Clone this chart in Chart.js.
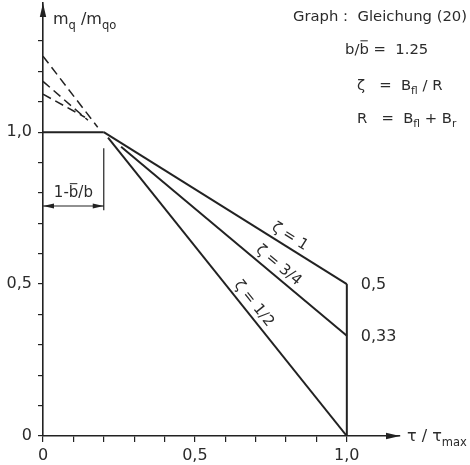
<!DOCTYPE html>
<html>
<head>
<meta charset="utf-8">
<script src="https://cdn.jsdelivr.net/npm/chart.js@4.4.1/dist/chart.umd.min.js"></script>
<style>
    html, body { margin: 0; padding: 0; background: #fff; }
    #wrap { width: 470px; height: 465px; }
</style>
</head>
<body>
<div id="wrap"><canvas id="chart" width="470" height="465"></canvas></div>
<script>
(function () {
    "use strict";

    // ======================================================================
    // Data
    //
    const curveNames = ['ζ = 1', 'ζ = 3/4', 'ζ = 1/2'];
    const curveStartX = [0.2, 0.257, 0.214];
    const curveStartY = [1.0, 0.952, 0.982];
    const curveEndX = [1.0, 1.0, 1.0];
    const curveEndY = [0.5, 0.33, 0.0];
    const curveLabelX = [0.795, 0.754, 0.668];

    const dashStartX = [0, 0, 0];
    const dashStartY = [1.125, 1.167, 1.25];
    const dashEndX = [0.138, 0.148, 0.18];
    const dashEndY = [1.049, 1.039, 1.016];

    const plateauX = [0, 0.2];
    const plateauY = [1.0, 1.0];
    const cutoffX = [1.0, 1.0];
    const cutoffY = [0.0, 0.5];

    const endLabels = ['0,5', '0,33'];
    const endLabelY = [0.5, 0.33];

    const kneeX = 0.2;          // 1 - b̄/b
    const dimLineY = [0.947, 0.743];
    const dimArrowY = 0.757;

    const xTickValues = [0, 0.1, 0.2, 0.3, 0.4, 0.5, 0.6, 0.7, 0.8, 0.9, 1.0];
    const xTickLabels = ['0', '', '', '', '', '0,5', '', '', '', '', '1,0'];
    const yTickValues = [0, 0.1, 0.2, 0.3, 0.4, 0.5, 0.6, 0.7, 0.8, 0.9, 1.0, 1.1, 1.2, 1.3];
    const yTickLabels = ['0', '', '', '', '', '0,5', '', '', '', '', '1,0', '', '', ''];

    // ======================================================================
    // Style
    //
    const INK = '#222';
    const TXT = '#2b2b2b';
    const FONT = '"DejaVu Sans", sans-serif';

    // ======================================================================
    // Helpers
    //
    function seg(xs, ys, dash, width) {
        return {
            data: xs.map((x, i) => ({ x: x, y: ys[i] })),
            showLine: true,
            borderColor: INK,
            borderWidth: width || 2,
            borderDash: dash || [],
            pointRadius: 0,
            fill: false
        };
    }

    function richWidth(ctx, parts, size) {
        let w = 0;
        parts.forEach(([t, k]) => {
            ctx.font = `${k === 's' ? size * 0.72 : size}px ${FONT}`;
            w += ctx.measureText(t).width;
        });
        return w;
    }

    function drawRich(ctx, parts, x, y, size) {
        parts.forEach(([t, k]) => {
            const fs = k === 's' ? size * 0.72 : size;
            ctx.font = `${fs}px ${FONT}`;
            ctx.fillText(t, x, y + (k === 's' ? size * 0.36 : 0));
            const w = ctx.measureText(t).width;
            if (k === 'o') {
                ctx.beginPath();
                ctx.lineWidth = 1;
                ctx.moveTo(x + 1, y - size * 0.62);
                ctx.lineTo(x + w - 1, y - size * 0.62);
                ctx.stroke();
            }
            x += w;
        });
        return x;
    }

    function arrowHead(ctx, x, y, angle, len, half) {
        ctx.save();
        ctx.translate(x, y);
        ctx.rotate(angle);
        ctx.beginPath();
        ctx.moveTo(0, 0);
        ctx.lineTo(-len, -half);
        ctx.lineTo(-len, half);
        ctx.closePath();
        ctx.fill();
        ctx.restore();
    }

    // ======================================================================
    // Datasets
    //
    const datasets = [seg(plateauX, plateauY), seg(cutoffX, cutoffY)];
    curveNames.forEach((n, i) => {
        datasets.push(seg([curveStartX[i], curveEndX[i]], [curveStartY[i], curveEndY[i]]));
        datasets.push(seg([dashStartX[i], dashEndX[i]], [dashStartY[i], dashEndY[i]], [9, 5], 1.5));
    });

    // ======================================================================
    // Annotations
    //
    const annotations = {
        id: 'annotations',
        afterDraw(chart) {
            const ctx = chart.ctx,
                xs = chart.scales.x,
                ys = chart.scales.y,
                area = chart.chartArea,
                x0 = xs.getPixelForValue(0),
                y0 = ys.getPixelForValue(0);

            ctx.save();
            ctx.fillStyle = INK;
            ctx.strokeStyle = INK;

            // axis arrows
            arrowHead(ctx, area.right, y0, 0, 14, 3.2);
            arrowHead(ctx, x0, area.top, -Math.PI / 2, 14, 3.2);

            // dimension 1 - b̄/b
            const kx = xs.getPixelForValue(kneeX),
                ay = ys.getPixelForValue(dimArrowY);
            ctx.lineWidth = 1.2;
            ctx.beginPath();
            ctx.moveTo(kx, ys.getPixelForValue(dimLineY[0]));
            ctx.lineTo(kx, ys.getPixelForValue(dimLineY[1]));
            ctx.moveTo(x0, ay);
            ctx.lineTo(kx, ay);
            ctx.stroke();
            arrowHead(ctx, kx, ay, 0, 11, 2.6);
            arrowHead(ctx, x0, ay, Math.PI, 11, 2.6);

            ctx.fillStyle = TXT;
            ctx.textBaseline = 'middle';
            ctx.textAlign = 'left';
            const dimParts = [['1-', 'n'], ['b', 'o'], ['/b', 'n']];
            const dw = richWidth(ctx, dimParts, 15);
            drawRich(ctx, dimParts, (x0 + kx) / 2 - dw / 2, ay - 13, 15);

            // curve labels, rotated along each line
            curveNames.forEach((name, i) => {
                const px1 = xs.getPixelForValue(curveStartX[i]),
                    py1 = ys.getPixelForValue(curveStartY[i]),
                    px2 = xs.getPixelForValue(curveEndX[i]),
                    py2 = ys.getPixelForValue(curveEndY[i]),
                    ang = Math.atan2(py2 - py1, px2 - px1),
                    t = (curveLabelX[i] - curveStartX[i]) / (curveEndX[i] - curveStartX[i]),
                    off = 10,
                    cx = px1 + (px2 - px1) * t + Math.sin(ang) * off,
                    cy = py1 + (py2 - py1) * t - Math.cos(ang) * off;
                ctx.save();
                ctx.translate(cx, cy);
                ctx.rotate(ang);
                ctx.font = `15px ${FONT}`;
                ctx.textAlign = 'center';
                ctx.fillText(name, 0, 0);
                ctx.restore();
            });

            // end values at tau = 1
            ctx.font = `16px ${FONT}`;
            ctx.textAlign = 'left';
            endLabels.forEach((lab, i) => {
                ctx.fillText(lab, xs.getPixelForValue(1) + 14, ys.getPixelForValue(endLabelY[i]) + 1);
            });

            // axis titles
            drawRich(ctx, [['m', 'n'], ['q', 's'], [' /m', 'n'], ['qo', 's']], x0 + 10, 20, 16);
            drawRich(ctx, [['τ / τ', 'n'], ['max', 's']], area.right + 7, y0 + 1, 16);

            // parameter block
            drawRich(ctx, [['Graph :  Gleichung (20)', 'n']], 293, 17, 14.8);
            drawRich(ctx, [['b/', 'n'], ['b', 'o'], [' =  1.25', 'n']], 345, 50, 14.8);
            drawRich(ctx, [['ζ   =  B', 'n'], ['fl', 's'], [' / R', 'n']], 357, 86, 14.8);
            drawRich(ctx, [['R   =  B', 'n'], ['fl', 's'], [' + B', 'n'], ['r', 's']], 357, 119, 14.8);

            ctx.restore();
        }
    };

    // ======================================================================
    // Chart
    //
    new Chart(document.getElementById('chart'), {
        type: 'scatter',
        data: { datasets: datasets },
        options: {
            responsive: false,
            animation: false,
            layout: { padding: { top: 3, right: 70, left: 0, bottom: 0 } },
            plugins: {
                legend: { display: false },
                tooltip: { enabled: false }
            },
            scales: {
                x: {
                    type: 'linear',
                    min: 0,
                    max: 1.175,
                    afterBuildTicks: s => { s.ticks = xTickValues.map(v => ({ value: v })); },
                    afterFit: s => { s.height = 29; s.paddingLeft = 0; s.paddingRight = 0; },
                    grid: { drawOnChartArea: false, drawTicks: true, tickLength: 6, color: INK, lineWidth: 1.2 },
                    border: { display: true, color: INK, width: 1.6 },
                    ticks: {
                        autoSkip: false,
                        maxRotation: 0,
                        padding: 4,
                        color: TXT,
                        font: { family: FONT, size: 16 },
                        callback: (v, i) => xTickLabels[i]
                    }
                },
                y: {
                    type: 'linear',
                    min: 0,
                    max: 1.425,
                    afterBuildTicks: s => { s.ticks = yTickValues.map(v => ({ value: v })); },
                    afterFit: s => { s.width = 43; s.paddingTop = 0; s.paddingBottom = 0; },
                    grid: { drawOnChartArea: false, drawTicks: true, tickLength: 5, color: INK, lineWidth: 1.2 },
                    border: { display: true, color: INK, width: 1.6 },
                    ticks: {
                        autoSkip: false,
                        padding: 6,
                        color: TXT,
                        font: { family: FONT, size: 16 },
                        callback: (v, i) => yTickLabels[i]
                    }
                }
            }
        },
        plugins: [annotations]
    });
})();
</script>
</body>
</html>
